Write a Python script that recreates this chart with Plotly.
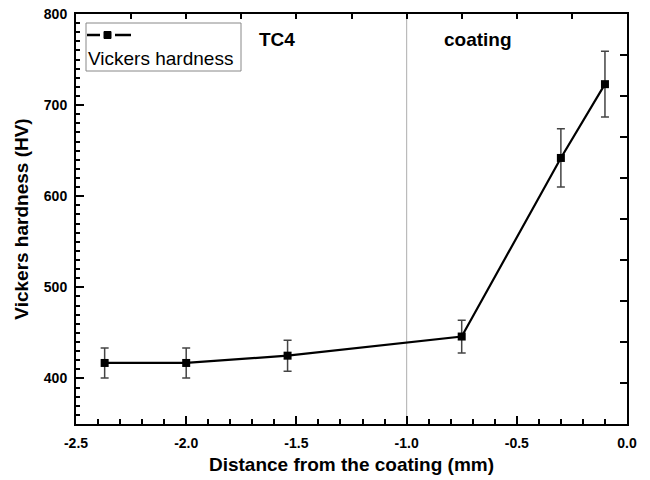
import plotly.graph_objects as go

distance = [-2.37, -2.0, -1.54, -0.75, -0.30, -0.10]
hardness = [417, 417, 425, 446, 642, 723]
hv_error = [16.5, 16.5, 17, 18, 32, 36]

x_major = [-2.5, -2.0, -1.5, -1.0, -0.5, 0.0]
x_minor = [round(-2.5 + 0.1 * i, 1) for i in range(26)]
y_major = [400, 500, 600, 700, 800]
y_minor = list(range(350, 801, 10))
top_ticks = [-2.5, -2.25, -2.0, -1.75, -1.5, -1.25, -1.0, -0.75, -0.5, -0.25, 0.0]
right_ticks = [395, 440, 485, 530, 575, 620, 665, 710, 755, 800]

FONT = "Arial, Liberation Sans, sans-serif"

fig = go.Figure()
fig.add_trace(go.Scatter(
    x=distance, y=hardness, mode="lines+markers",
    line=dict(color="black", width=2.2),
    marker=dict(symbol="square", size=8, color="black"),
    error_y=dict(type="data", array=hv_error, visible=True,
                 color="#444444", thickness=1.5, width=4),
    showlegend=False,
))

fig.add_vline(x=-1.0, line=dict(color="#bbbbbb", width=1.2), layer="below")

tickfont = dict(family=FONT, size=14, color="black", weight="bold")
titlefont = dict(family=FONT, size=19, color="black", weight="bold")

def xlab(v):
    return ("%.1f" % v) if any(abs(v - m) < 1e-9 for m in x_major) else ""

def ylab(v):
    return str(v) if v in y_major else ""

common = dict(showgrid=False, zeroline=False, automargin=False,
              showline=True, linewidth=2, linecolor="black", tickcolor="black")

fig.update_layout(
    width=650, height=480,
    margin=dict(l=76, r=23, t=14, b=56),
    paper_bgcolor="white", plot_bgcolor="white",
    xaxis=dict(
        range=[-2.5, 0.0], tickmode="array", tickvals=x_minor,
        ticktext=[xlab(v) for v in x_minor],
        ticks="inside", ticklen=5, tickwidth=2, ticklabelstandoff=5,
        tickfont=tickfont,
        title=dict(text="Distance from the coating (mm)", standoff=8, font=titlefont),
        **common,
    ),
    yaxis=dict(
        range=[350, 800], tickmode="array", tickvals=y_minor,
        ticktext=[ylab(v) for v in y_minor],
        ticks="inside", ticklen=4, tickwidth=1.5, ticklabelstandoff=4,
        tickfont=tickfont,
        title=dict(text="Vickers hardness (HV)", standoff=10, font=titlefont),
        **common,
    ),
    xaxis3=dict(
        overlaying="x", side="bottom", anchor="y", range=[-2.5, 0.0],
        tickmode="array", tickvals=x_major, showticklabels=False,
        ticks="inside", ticklen=8, tickwidth=2, **common,
    ),
    yaxis3=dict(
        overlaying="y", side="left", anchor="x", range=[350, 800],
        tickmode="array", tickvals=y_major, showticklabels=False,
        ticks="inside", ticklen=8, tickwidth=2, **common,
    ),
    xaxis2=dict(
        overlaying="x", side="top", anchor="y", range=[-2.5, 0.0],
        tickmode="array", tickvals=top_ticks, showticklabels=False,
        ticks="inside", ticklen=5, tickwidth=2, **common,
    ),
    yaxis2=dict(
        overlaying="y", side="right", anchor="x", range=[350, 800],
        tickmode="array", tickvals=right_ticks, showticklabels=False,
        ticks="inside", ticklen=7, tickwidth=2, **common,
    ),
    showlegend=False,
)

fig.add_trace(go.Scatter(x=[None], y=[None], xaxis="x2", yaxis="y2",
                         showlegend=False, hoverinfo="skip"))
fig.add_trace(go.Scatter(x=[None], y=[None], xaxis="x3", yaxis="y3",
                         showlegend=False, hoverinfo="skip"))

fig.add_annotation(x=-1.59, y=1, xref="x", yref="paper", yanchor="middle", yshift=-25,
                   text="TC4", showarrow=False,
                   font=dict(family=FONT, size=19, color="black", weight="bold"))
fig.add_annotation(x=-0.677, y=1, xref="x", yref="paper", yanchor="middle", yshift=-25,
                   text="coating", showarrow=False,
                   font=dict(family=FONT, size=19, color="black", weight="bold"))

px_w = 650 - 76 - 23
px_h = 480 - 14 - 56
def fx(px):
    return (px - 76) / px_w
def fy(py):
    return 1 - (py - 14) / px_h

fig.add_shape(type="rect", xref="paper", yref="paper",
              x0=fx(86), x1=fx(241), y0=fy(71), y1=fy(23),
              line=dict(color="#888888", width=1), fillcolor="white")
fig.add_shape(type="line", xref="paper", yref="paper",
              x0=fx(87), x1=fx(100), y0=fy(35), y1=fy(35),
              line=dict(color="black", width=2.5))
fig.add_shape(type="line", xref="paper", yref="paper",
              x0=fx(115), x1=fx(131), y0=fy(35), y1=fy(35),
              line=dict(color="black", width=2.5))
fig.add_shape(type="rect", xref="paper", yref="paper",
              x0=fx(104), x1=fx(111), y0=fy(38.5), y1=fy(31.5),
              line=dict(color="black", width=1), fillcolor="black")
fig.add_annotation(x=fx(86), y=fy(59), xref="paper", yref="paper",
                   xanchor="left", yanchor="middle", showarrow=False,
                   text="Vickers hardness",
                   font=dict(family=FONT, size=19, color="black"))

fig.write_html("out.html", config={"displayModeBar": False},
               post_script="document.body.style.margin='0';document.body.style.overflow='hidden';")
